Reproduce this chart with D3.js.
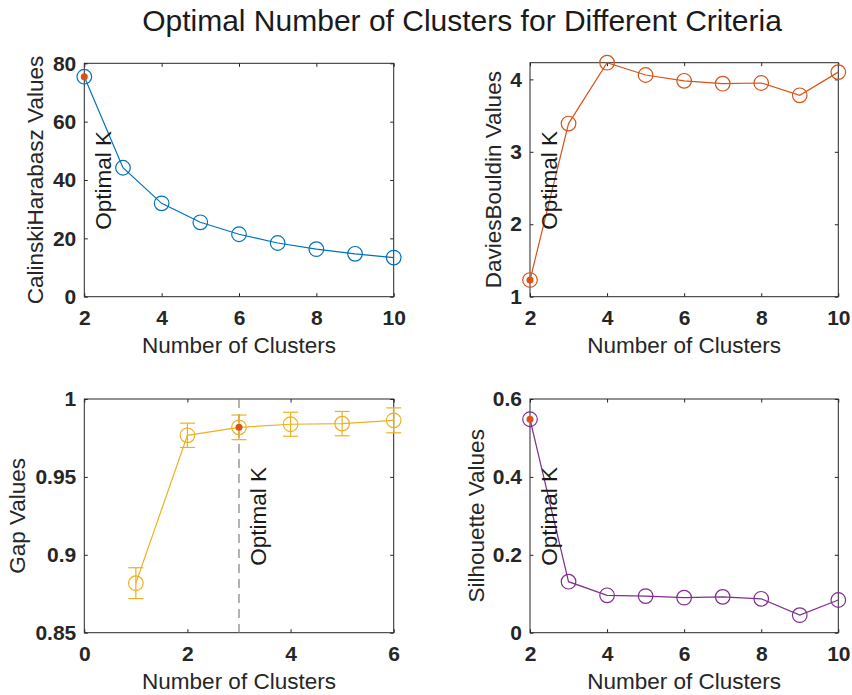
<!DOCTYPE html>
<html><head><meta charset="utf-8">
<script src="https://cdn.jsdelivr.net/npm/d3@7"></script>
<style>body{margin:0;background:#fff} svg{display:block}</style>
</head><body>
<script>
// ---- data ----
const titleText = "Optimal Number of Clusters for Different Criteria";
const xLabel = "Number of Clusters";
const kValues = [2, 3, 4, 5, 6, 7, 8, 9, 10];
const chValues = [75.4, 44.2, 32.0, 25.5, 21.4, 18.4, 16.3, 14.7, 13.4];
const dbValues = [1.23, 3.39, 4.23, 4.06, 3.98, 3.94, 3.95, 3.78, 4.10];
const gapK = [1, 2, 3, 4, 5, 6];
const gapValues = [0.8818, 0.9767, 0.9818, 0.9838, 0.9842, 0.9863];
const gapErr = [0.0099, 0.0078, 0.0079, 0.0077, 0.0078, 0.0080];
const silValues = [0.548, 0.131, 0.096, 0.094, 0.090, 0.092, 0.087, 0.045, 0.084];
const kTicks = [2, 4, 6, 8, 10];
const gapKTicks = [0, 2, 4, 6];
const chTicks = [0, 20, 40, 60, 80];
const dbTicks = [1, 2, 3, 4];
const gapTicks = [0.85, 0.9, 0.95, 1];
const silTicks = [0, 0.2, 0.4, 0.6];
const optimalK = {ch: 2, db: 2, gap: 3, sil: 2};

const W = 852, H = 695;
const FONT = "'Liberation Sans', Arial, Helvetica, sans-serif";
const axisColor = "#262626";

const svg = d3.select("body").append("svg").attr("width", W).attr("height", H);

svg.append("text").attr("x", 462).attr("y", 31)
  .attr("text-anchor", "middle").attr("font-family", FONT).attr("font-size", 30)
  .attr("fill", "#1a1a1a").text(titleText);

const panels = [
  {key: "ch", x: kValues, y: chValues, xDom: [2, 10], yDom: [0, 80], xt: kTicks, yt: chTicks,
   color: "#0072BD", ylabel: "CalinskiHarabasz Values", box: [84.3, 63.3, 393.7, 296.7], ylOff: 41},
  {key: "db", x: kValues, y: dbValues, xDom: [2, 10], yDom: [1, d3.max(dbValues)], xt: kTicks, yt: dbTicks,
   color: "#D95319", ylabel: "DaviesBouldin Values", box: [530, 62.7, 838.3, 296.7], ylOff: 29},
  {key: "gap", x: gapK, y: gapValues, err: gapErr, xDom: [0, 6], yDom: [0.85, 1], xt: gapKTicks, yt: gapTicks,
   color: "#EDB120", ylabel: "Gap Values", box: [84.3, 399, 393.7, 632.7], ylOff: 59, vline: true},
  {key: "sil", x: kValues, y: silValues, xDom: [2, 10], yDom: [0, 0.6], xt: kTicks, yt: silTicks,
   color: "#7E2F8E", ylabel: "Silhouette Values", box: [530, 399, 838.3, 632.7], ylOff: 46}
];

panels.forEach(p => {
  const [x0, y0, x1, y1] = p.box;
  const xs = d3.scaleLinear().domain(p.xDom).range([x0, x1]);
  const ys = d3.scaleLinear().domain(p.yDom).range([y1, y0]);
  const g = svg.append("g");
  const tl = 3.5;

  const bottom = g.append("g").attr("transform", `translate(0,${y1})`)
    .call(d3.axisBottom(xs).tickValues(p.xt).tickSizeInner(-tl).tickSizeOuter(0).tickPadding(13).tickFormat(d3.format("~g")));
  const top = g.append("g").attr("transform", `translate(0,${y0})`)
    .call(d3.axisTop(xs).tickValues(p.xt).tickSizeInner(-tl).tickSizeOuter(0).tickFormat(""));
  const left = g.append("g").attr("transform", `translate(${x0},0)`)
    .call(d3.axisLeft(ys).tickValues(p.yt).tickSizeInner(-tl).tickSizeOuter(0).tickPadding(8).tickFormat(d3.format("~g")));
  const right = g.append("g").attr("transform", `translate(${x1},0)`)
    .call(d3.axisRight(ys).tickValues(p.yt).tickSizeInner(-tl).tickSizeOuter(0).tickFormat(""));
  [bottom, top, left, right].forEach(a => {
    a.select(".domain").remove();
    a.selectAll(".tick line").attr("stroke", axisColor).attr("stroke-width", 1);
    a.selectAll(".tick text").attr("fill", axisColor).attr("font-family", FONT)
      .attr("font-size", 21).attr("font-weight", "bold");
  });
  bottom.selectAll(".tick text").attr("dy", "0.71em").attr("y", 13);
  g.append("rect").attr("x", x0).attr("y", y0).attr("width", x1 - x0).attr("height", y1 - y0)
    .attr("fill", "none").attr("stroke", axisColor).attr("stroke-width", 1);

  g.append("text").attr("x", (x0 + x1) / 2).attr("y", y1 + 56).attr("text-anchor", "middle")
    .attr("font-family", FONT).attr("font-size", 22.5).attr("fill", axisColor).text(xLabel);
  g.append("text").attr("transform", `translate(${x0 - p.ylOff},${(y0 + y1) / 2}) rotate(-90)`)
    .attr("text-anchor", "middle").attr("font-family", FONT).attr("font-size", 22.5)
    .attr("fill", axisColor).text(p.ylabel);

  const K = optimalK[p.key];
  if (p.vline) {
    g.append("line").attr("x1", xs(K)).attr("x2", xs(K)).attr("y1", y0).attr("y2", y1)
      .attr("stroke", "#808080").attr("stroke-width", 1.2).attr("stroke-dasharray", "9,6");
  }

  const pts = p.x.map((k, i) => ({k, v: p.y[i], e: p.err ? p.err[i] : 0}));
  const line = d3.line().x(d => xs(d.k)).y(d => ys(d.v));
  g.append("path").datum(pts).attr("d", line).attr("fill", "none")
    .attr("stroke", p.color).attr("stroke-width", 1.2);

  if (p.err) {
    const eg = g.append("g").attr("stroke", p.color).attr("stroke-width", 1.2);
    pts.forEach(d => {
      const cx = xs(d.k), ya = ys(d.v + d.e), yb = ys(d.v - d.e);
      eg.append("line").attr("x1", cx).attr("x2", cx).attr("y1", ya).attr("y2", yb);
      eg.append("line").attr("x1", cx - 7.5).attr("x2", cx + 7.5).attr("y1", ya).attr("y2", ya);
      eg.append("line").attr("x1", cx - 7.5).attr("x2", cx + 7.5).attr("y1", yb).attr("y2", yb);
    });
  }

  g.selectAll("circle.m").data(pts).enter().append("circle").attr("class", "m")
    .attr("cx", d => xs(d.k)).attr("cy", d => ys(d.v)).attr("r", 7.3)
    .attr("fill", "none").attr("stroke", p.color).attr("stroke-width", 1.2);

  const opt = pts.find(d => d.k === K);
  g.append("circle").attr("cx", xs(opt.k)).attr("cy", ys(opt.v)).attr("r", 3.5)
    .attr("fill", "#D95319");

  g.append("text").attr("transform", `translate(${xs(K) + 27},${y1 - 67}) rotate(-90)`)
    .attr("font-family", FONT).attr("font-size", 22.5).attr("fill", "#1a1a1a").text("Optimal K");
});
</script>
</body></html>
